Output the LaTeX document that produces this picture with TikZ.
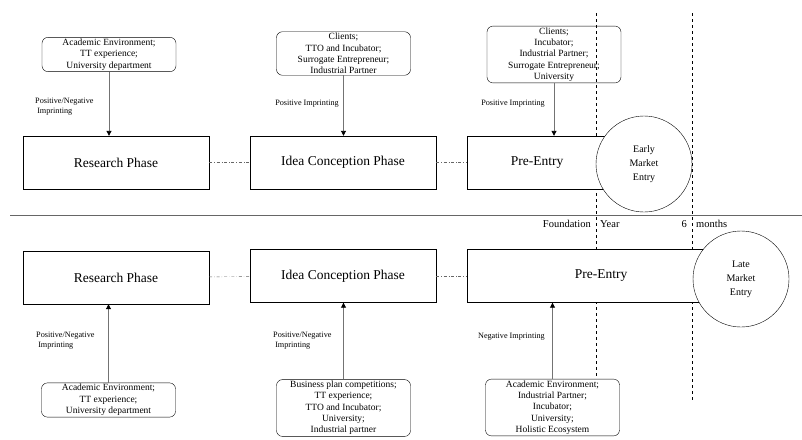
\documentclass[tikz,border=0pt]{standalone}
\usepackage{fontspec}
\setmainfont{Liberation Serif}
\usetikzlibrary{arrows.meta,positioning}

\tikzset{
  phase/.style={draw,fill=white,minimum height=53pt,font=\fontsize{13.5}{15}\selectfont},
  actor/.style={draw,rounded corners=6pt,align=center,minimum width=134pt,
    inner sep=1.5pt,font=\fontsize{9.5}{11.3}\selectfont},
  imprint/.style={align=left,inner sep=0pt,font=\fontsize{8.2}{10}\selectfont},
  entry/.style={draw,circle,fill=white,minimum size=96pt,align=center,
    font=\fontsize{10}{14}\selectfont},
  stage/.style={inner sep=0pt,font=\fontsize{10.5}{12}\selectfont},
  link/.style={black!60,dash dot},
  feed/.style={black!55,line width=0.9pt,-{Triangle[width=5pt,length=5pt,color=black]}},
}

\begin{document}
\begin{tikzpicture}[x=1pt,y=-1pt]
  \useasboundingbox (0,0) rectangle (802,439);

  % time markers
  \coordinate (f1) at (596,13);
  \coordinate (f2) at (596,377);
  \coordinate (m1) at (692,13);
  \coordinate (m2) at (692,402);
  \draw[dashed] (f1) -- (f2);
  \draw[dashed] (m1) -- (m2);

  % separator
  \coordinate (s1) at (10,215);
  \coordinate (s2) at (802,215);
  \draw[black!60,line width=1pt] (s1) -- (s2);
  \node[stage,anchor=east] (found) at (591,224) {Foundation};
  \node[stage,anchor=west] (year) at (600,224) {Year};
  \node[stage,anchor=east] (six) at (687,224) {6};
  \node[stage,anchor=west] (months) at (696,224) {months};

  % early entry path
  \node[phase,minimum width=186pt] (rA) at (116,162.5) {Research Phase};
  \node[phase,minimum width=186pt] (iA) at (343,162.5) {Idea Conception Phase};
  \node[phase,minimum width=140pt] (pA) at (537,162.5) {Pre-Entry};
  \node[entry] (eA) at (644,164) {Early\\Market\\Entry};
  \draw[link] (rA) -- (iA);
  \draw[link] (iA) -- (pA);

  \node[actor] (aA) at (109,54.5) {Academic Environment;\\TT experience;\\University department};
  \node[actor] (aB) at (343.5,53.5) {Clients;\\TTO and Incubator;\\Surrogate Entrepreneur;\\Industrial Partner};
  \node[actor] (aC) at (554,54.5) {Clients;\\Incubator;\\Industrial Partner;\\Surrogate Entrepreneur;\\University};
  \draw[feed] (aA.south) -- (aA.south |- rA.north);
  \draw[feed] (aB.south) -- (aB.south |- iA.north);
  \draw[feed] (aC.south) -- (aC.south |- pA.north);
  \node[imprint,anchor=west] (lA) at (35,107) {Positive/Negative\\\ Imprinting};
  \node[imprint,anchor=east] (lB) at (339,104) {Positive Imprinting};
  \node[imprint,anchor=east] (lC) at (545,104) {Positive Imprinting};

  % late entry path
  \node[phase,minimum width=186pt] (rB) at (116,277.5) {Research Phase};
  \node[phase,minimum width=186pt] (iB) at (343,276) {Idea Conception Phase};
  \node[phase,minimum width=268pt] (pB) at (601,276) {Pre-Entry};
  \node[entry] (eB) at (741,279) {Late\\Market\\Entry};
  \draw[link] (rB) -- (iB);
  \draw[link] (iB) -- (pB);

  \node[actor] (bA) at (108.5,400) {Academic Environment;\\TT experience;\\University department};
  \node[actor] (bB) at (343.5,408) {Business plan competitions;\\TT experience;\\TTO and Incubator;\\University;\\Industrial partner};
  \node[actor] (bC) at (552.5,407.5) {Academic Environment;\\Industrial Partner;\\Incubator;\\University;\\Holistic Ecosystem};
  \draw[feed] (bA.north) -- (bA.north |- rB.south);
  \draw[feed] (bB.north) -- (bB.north |- iB.south);
  \draw[feed] (bC.north) -- (bC.north |- pB.south);
  \node[imprint,anchor=west] (lD) at (36,341) {Positive/Negative\\\ Imprinting};
  \node[imprint,anchor=west] (lE) at (273,341) {Positive/Negative\\\ Imprinting};
  \node[imprint,anchor=east] (lF) at (545,337) {Negative Imprinting};
\end{tikzpicture}
\end{document}
